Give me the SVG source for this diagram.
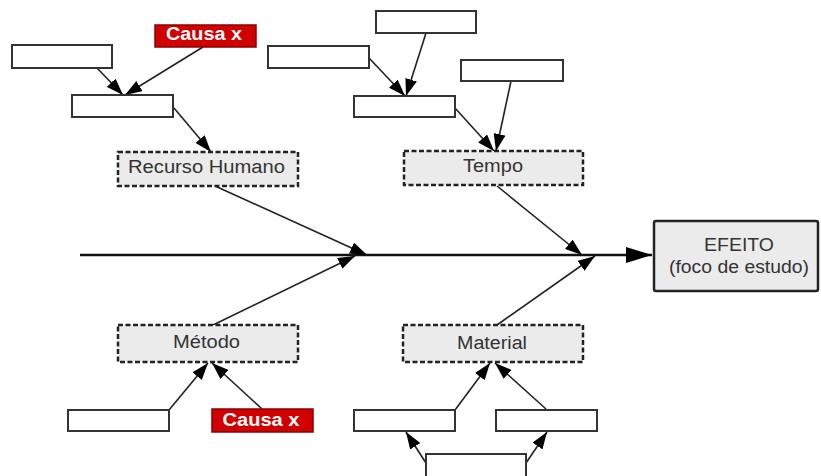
<svg xmlns="http://www.w3.org/2000/svg" width="821" height="476" viewBox="0 0 821 476">
<defs>
<style>
.blank{fill:#fff;stroke:#333;stroke-width:2}
.cause{fill:#d10000;stroke:#8a0000;stroke-width:1.5}
.cat{fill:#ebebeb;stroke:#222;stroke-width:2.5;stroke-dasharray:5 2.5}
.effect{fill:#ebebeb;stroke:#222;stroke-width:2.5}
.lbl{font-family:"Liberation Sans",Arial,sans-serif;font-size:18px;fill:#333;text-anchor:middle}
.red{font-family:"Liberation Sans",Arial,sans-serif;font-size:18px;font-weight:bold;fill:#fff;text-anchor:middle}
.br{stroke:#222;stroke-width:1.6;fill:none;marker-end:url(#ah)}
.spine{stroke:#111;stroke-width:2.5;fill:none;marker-end:url(#big)}
</style>
<marker id="ah" markerUnits="userSpaceOnUse" viewBox="0 0 17 12" refX="17" refY="6" markerWidth="17" markerHeight="12" orient="auto">
<path d="M0,0 L17,6 L0,12 z" fill="#000"/>
</marker>
<marker id="big" markerUnits="userSpaceOnUse" viewBox="0 0 26 16" refX="26" refY="8" markerWidth="26" markerHeight="16" orient="auto">
<path d="M0,0 L26,8 L0,16 z" fill="#000"/>
</marker>
</defs>
<rect width="821" height="476" fill="#fff"/>
<g id="connectors">
<line class="spine" x1="80" y1="255" x2="652" y2="255"/>
<line class="br" x1="97" y1="68" x2="123" y2="95"/>
<line class="br" x1="203" y1="47" x2="125" y2="95"/>
<line class="br" x1="174" y1="108" x2="211" y2="152"/>
<line class="br" x1="215" y1="186" x2="367" y2="255"/>
<line class="br" x1="369" y1="58" x2="405" y2="96"/>
<line class="br" x1="426" y1="33" x2="406" y2="96"/>
<line class="br" x1="455" y1="108" x2="494" y2="151"/>
<line class="br" x1="511" y1="81" x2="496" y2="151"/>
<line class="br" x1="497" y1="186" x2="582" y2="255"/>
<line class="br" x1="213" y1="325" x2="355" y2="256"/>
<line class="br" x1="169" y1="410" x2="208" y2="363"/>
<line class="br" x1="262" y1="409" x2="212" y2="363"/>
<line class="br" x1="497" y1="325" x2="595" y2="256"/>
<line class="br" x1="455" y1="410" x2="490" y2="363"/>
<line class="br" x1="546" y1="409" x2="495" y2="363"/>
<line class="br" x1="426" y1="463" x2="406" y2="432"/>
<line class="br" x1="526" y1="463" x2="547" y2="432"/>
</g>
<g id="rh-sub1"><rect class="blank" x="12" y="45" width="100" height="23"/></g>
<g id="rh-causa"><rect class="cause" x="155" y="25" width="101" height="22"/><text class="red" x="204" y="40" textLength="76" lengthAdjust="spacingAndGlyphs">Causa x</text></g>
<g id="rh-sub2"><rect class="blank" x="72" y="95" width="101" height="22"/></g>
<g id="recurso-humano"><rect class="cat" x="118" y="152" width="180" height="34"/><text class="lbl" x="206.5" y="173" textLength="157" lengthAdjust="spacingAndGlyphs">Recurso Humano</text></g>
<g id="t-sub1"><rect class="blank" x="376" y="11" width="100" height="22"/></g>
<g id="t-sub2"><rect class="blank" x="268" y="46" width="101" height="22"/></g>
<g id="t-sub3"><rect class="blank" x="354" y="96" width="101" height="21"/></g>
<g id="t-sub4"><rect class="blank" x="461" y="60" width="102" height="21"/></g>
<g id="tempo"><rect class="cat" x="404" y="151" width="179" height="34"/><text class="lbl" x="493" y="172" textLength="60" lengthAdjust="spacingAndGlyphs">Tempo</text></g>
<g id="efeito"><rect class="effect" x="654" y="221" width="164" height="70" rx="2"/><text class="lbl" x="739" y="251" textLength="70" lengthAdjust="spacingAndGlyphs">EFEITO</text><text class="lbl" x="739" y="273" textLength="140" lengthAdjust="spacingAndGlyphs">(foco de estudo)</text></g>
<g id="metodo"><rect class="cat" x="118" y="325" width="180" height="37"/><text class="lbl" x="206.5" y="348" textLength="67" lengthAdjust="spacingAndGlyphs">Método</text></g>
<g id="m-sub1"><rect class="blank" x="68" y="410" width="101" height="21"/></g>
<g id="m-causa"><rect class="cause" x="212" y="409" width="101" height="23"/><text class="red" x="261" y="426" textLength="77" lengthAdjust="spacingAndGlyphs">Causa x</text></g>
<g id="material"><rect class="cat" x="403" y="325" width="180" height="37"/><text class="lbl" x="492" y="349" textLength="70" lengthAdjust="spacingAndGlyphs">Material</text></g>
<g id="mat-sub1"><rect class="blank" x="354" y="410" width="101" height="21"/></g>
<g id="mat-sub2"><rect class="blank" x="496" y="410" width="101" height="21"/></g>
<g id="mat-sub3"><rect class="blank" x="426" y="454" width="100" height="24"/></g>
</svg>
